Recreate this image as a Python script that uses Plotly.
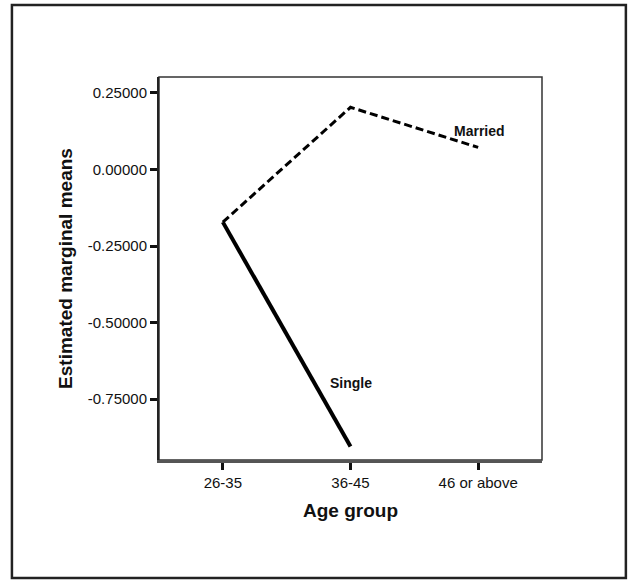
import plotly.graph_objects as go

age_groups = ["26-35", "36-45", "46 or above"]
married = [-0.172, 0.203, 0.072]
single = [-0.172, -0.905, None]
y_ticks = [0.25, 0.0, -0.25, -0.5, -0.75]
y_tick_labels = ["0.25000", "0.00000", "-0.25000", "-0.50000", "-0.75000"]

xi = list(range(len(age_groups)))
FONT = "Liberation Sans, Arial, sans-serif"

fig = go.Figure()
fig.add_trace(go.Scatter(x=xi, y=married, mode="lines", name="Married",
                         line=dict(color="#000", width=3, dash="8px,4px")))
fig.add_trace(go.Scatter(x=xi, y=single, mode="lines", name="Single",
                         line=dict(color="#000", width=4)))

fig.update_layout(
    width=631, height=580,
    margin=dict(l=159, r=89, t=77, b=120),
    paper_bgcolor="white", plot_bgcolor="white",
    showlegend=False,
    font=dict(family=FONT, color="#111"),
    xaxis=dict(range=[-0.5, 2.5], tickvals=xi, ticktext=age_groups,
               showgrid=False, zeroline=False, showline=True,
               linecolor="#555", linewidth=2.5,
               ticks="outside", ticklen=7, tickwidth=3, tickcolor="#111",
               tickfont=dict(size=15, family=FONT, color="#111"),
               title=dict(text="<b>Age group</b>", font=dict(size=19, family=FONT), standoff=14)),
    yaxis=dict(range=[-0.949, 0.302], tickvals=y_ticks, ticktext=y_tick_labels,
               showgrid=False, zeroline=False, showline=True,
               linecolor="#222", linewidth=2,
               ticks="outside", ticklen=7, tickwidth=3, tickcolor="#111",
               tickfont=dict(size=15, family=FONT, color="#111"),
               title=dict(text="<b>Estimated marginal means</b>", font=dict(size=19, family=FONT), standoff=10)),
)

# plot box (top and right edges)
fig.add_shape(type="rect", xref="paper", yref="paper", x0=0, x1=1, y0=0, y1=1,
              line=dict(color="#333", width=1.5), layer="below")
# outer frame
fig.add_shape(type="rect", xref="paper", yref="paper",
              x0=-0.384, x1=1.219, y0=-0.308, y1=1.188,
              line=dict(color="#222", width=2.5))

fig.add_annotation(x=2.01, y=0.127, text="<b>Married</b>", showarrow=False,
                   font=dict(size=14, family=FONT, color="#111"))
fig.add_annotation(x=1.0, y=-0.696, text="<b>Single</b>", showarrow=False,
                   font=dict(size=14, family=FONT, color="#111"))

fig.write_html("out.html", config={"displayModeBar": False},
               post_script="document.body.style.margin='0';document.body.style.overflow='hidden';")
